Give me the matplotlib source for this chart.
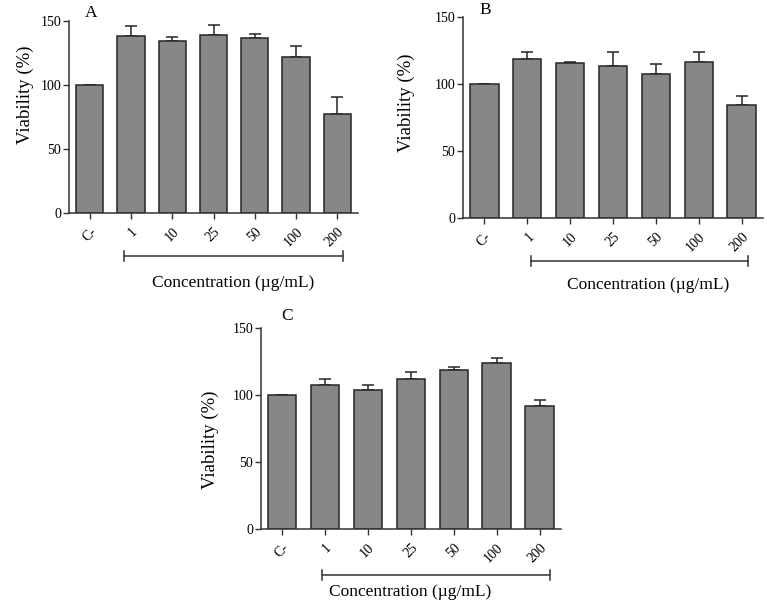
import matplotlib
matplotlib.use('Agg')
import matplotlib.pyplot as plt
from matplotlib.transforms import blended_transform_factory

plt.rcParams['font.family'] = ['Liberation Serif', 'DejaVu Serif']

categories = ['C-', '1', '10', '25', '50', '100', '200']
yticks = [0, 50, 100, 150]

viab_A = [100, 138.3, 133.9, 138.8, 136.5, 121.5, 77.1]
err_A = [0, 7.5, 3.6, 7.6, 3.4, 8.5, 13.5]

viab_B = [100, 119.2, 115.7, 113.9, 107.5, 116.9, 84.6]
err_B = [0, 4.7, 0.7, 10.5, 7.7, 7.5, 6.7]

viab_C = [100, 107.7, 103.7, 111.9, 118.7, 123.6, 91.8]
err_C = [0, 4.2, 4.0, 5.0, 1.9, 4.0, 4.5]

W, H = 767, 603
BAR = '#878787'
EDGE = '#262626'


def px(x0, y0, x1, y1):
    # pixel box (top-left origin) -> figure fraction rect
    return [x0 / W, 1 - y1 / H, (x1 - x0) / W, (y1 - y0) / H]


def panel(fig, rect, vals, errs, letter, letter_xy, ylab_xy, xlab_xy, brk):
    ax = fig.add_axes(rect)
    x = list(range(len(categories)))
    ax.bar(x, vals, width=0.66, color=BAR, edgecolor=EDGE, linewidth=1.1, zorder=2)
    ax.errorbar(x, vals, yerr=[[0] * len(errs), errs], fmt='none', ecolor=EDGE,
                elinewidth=1.1, capsize=4.5, capthick=1.1, zorder=1)
    ax.set_xlim(-0.5, 6.5)
    ax.set_ylim(0, 150)
    ax.set_yticks(yticks)
    ax.set_xticks(x)
    ax.set_xticklabels(categories, rotation=45, ha='right', va='top',
                       rotation_mode='anchor', fontsize=10)
    ax.tick_params(axis='y', labelsize=10, length=4.5, width=1.0, color='#333333', pad=1)
    ax.tick_params(axis='x', length=4.5, width=1.0, color='#333333', pad=4)
    for s in ['top', 'right']:
        ax.spines[s].set_visible(False)
    for s in ['left', 'bottom']:
        ax.spines[s].set_color('#333333')
        ax.spines[s].set_linewidth(1.1)

    # bracket under the concentration groups
    tr = blended_transform_factory(ax.transData, ax.transAxes)
    bx0, bx1, by, bh = brk
    ax.plot([bx0, bx1], [by, by], color='#333333', lw=1.1, transform=tr, clip_on=False)
    for bx in (bx0, bx1):
        ax.plot([bx, bx], [by - bh, by + bh], color='#333333', lw=1.1,
                transform=tr, clip_on=False)

    fig.text(letter_xy[0] / W, 1 - letter_xy[1] / H, letter, fontsize=12.5,
             ha='center', va='center')
    fig.text(ylab_xy[0] / W, 1 - ylab_xy[1] / H, 'Viability (%)', fontsize=13.5,
             rotation=90, ha='center', va='center')
    fig.text(xlab_xy[0] / W, 1 - xlab_xy[1] / H, 'Concentration (\u00b5g/mL)',
             fontsize=12.5, ha='center', va='center')
    return ax


fig = plt.figure(figsize=(W / 100, H / 100), dpi=100)

panel(fig, px(69, 20.7, 358, 213.3), viab_A, err_A, 'A', (91, 13), (25, 95),
      (233, 283), (0.84, 6.13, -0.222, 0.025))
panel(fig, px(463, 17.3, 763, 218.3), viab_B, err_B, 'B', (485, 10), (406, 103),
      (648, 285), (1.08, 6.14, -0.211, 0.025))
panel(fig, px(260.7, 328, 561, 529.3), viab_C, err_C, 'C', (287, 316), (210, 440),
      (410, 592), (0.93, 6.25, -0.227, 0.025))

fig.savefig('out.png', dpi=100)
